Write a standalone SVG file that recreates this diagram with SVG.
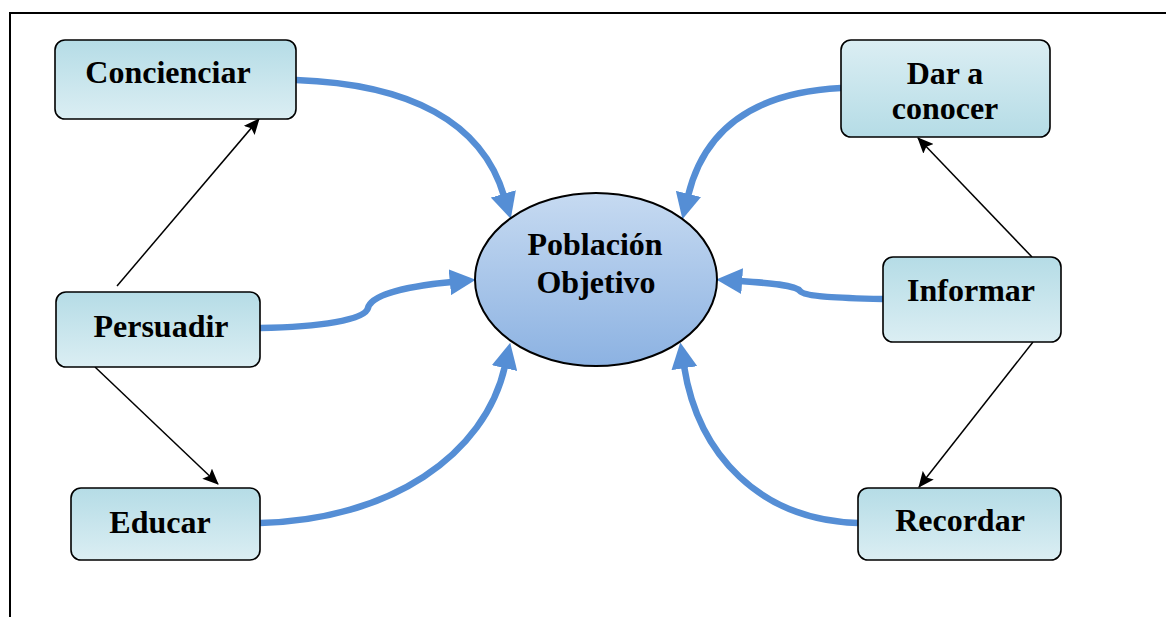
<svg xmlns="http://www.w3.org/2000/svg" width="1166" height="617" viewBox="0 0 1166 617">
<defs>
<linearGradient id="gDown" x1="0" y1="0" x2="0" y2="1"><stop offset="0" stop-color="#b5dce6"/><stop offset="1" stop-color="#dbeef3"/></linearGradient>
<linearGradient id="gUp" x1="0" y1="0" x2="0" y2="1"><stop offset="0" stop-color="#dbeef3"/><stop offset="1" stop-color="#b5dce6"/></linearGradient>
<linearGradient id="gEll" x1="0" y1="0" x2="0" y2="1"><stop offset="0" stop-color="#c6daf1"/><stop offset="1" stop-color="#8cb2e2"/></linearGradient>
<marker id="blueHead" markerUnits="userSpaceOnUse" markerWidth="26" markerHeight="26" viewBox="0 0 24 24" refX="2" refY="12" orient="auto"><path d="M0,0 L24,12 L0,24 z" fill="#558ed5"/></marker>
<marker id="blackHead" markerUnits="userSpaceOnUse" markerWidth="16" markerHeight="14" viewBox="0 0 16 14" refX="15" refY="7" orient="auto"><path d="M0,0 L16,7 L0,14 L3,7 z" fill="#000"/></marker>
<style>
.box{stroke:#000;stroke-width:1.6}
.lbl{font-family:"Liberation Serif","Times New Roman",serif;font-weight:bold;font-size:32px;fill:#000;text-anchor:middle}
.blue{fill:none;stroke:#558ed5;stroke-width:6.5;marker-end:url(#blueHead)}
.thin{fill:none;stroke:#000;stroke-width:1.5;marker-end:url(#blackHead)}
</style>
</defs>
<rect x="10" y="13" width="1170" height="620" fill="#fff" stroke="#000" stroke-width="2"/>
<g id="connectors">
<path class="blue" d="M296,80 C410,84 482,122 504,196"/>
<path class="blue" d="M841,88 C760,92 705,125 688,196"/>
<path class="blue" d="M260,328 C320,327 365,320 368,308 C372,292 420,285 452,282"/>
<path class="blue" d="M883,299 C840,298 805,297 800,291 C795,285 770,283 740,281"/>
<path class="blue" d="M260,523 C390,520 485,455 505,366"/>
<path class="blue" d="M858,523 C760,520 698,455 684,366"/>
<path class="thin" d="M117,286 L259,119"/>
<path class="thin" d="M95,367 L218,484"/>
<path class="thin" d="M1032,257 L918,138"/>
<path class="thin" d="M1033,342 L919,487"/>
</g>
<g id="poblacion">
<ellipse cx="596" cy="279.5" rx="121" ry="86.5" fill="url(#gEll)" stroke="#000" stroke-width="2"/>
<text class="lbl" x="595" y="255">Población</text>
<text class="lbl" x="596" y="293">Objetivo</text>
</g>
<g id="concienciar">
<rect class="box" x="55" y="40" width="241" height="79" rx="10" fill="url(#gDown)"/>
<text class="lbl" x="168" y="83">Concienciar</text>
</g>
<g id="persuadir">
<rect class="box" x="56" y="292" width="204" height="75" rx="10" fill="url(#gDown)"/>
<text class="lbl" x="161" y="337">Persuadir</text>
</g>
<g id="educar">
<rect class="box" x="71" y="488" width="189" height="72" rx="10" fill="url(#gDown)"/>
<text class="lbl" x="160" y="533">Educar</text>
</g>
<g id="dar-a-conocer">
<rect class="box" x="841" y="40" width="209" height="97" rx="10" fill="url(#gUp)"/>
<text class="lbl" x="945" y="84">Dar a</text>
<text class="lbl" x="945" y="119">conocer</text>
</g>
<g id="informar">
<rect class="box" x="883" y="257" width="178" height="85" rx="10" fill="url(#gDown)"/>
<text class="lbl" x="971" y="301">Informar</text>
</g>
<g id="recordar">
<rect class="box" x="858" y="488" width="203" height="72" rx="10" fill="url(#gDown)"/>
<text class="lbl" x="960" y="531">Recordar</text>
</g>
</svg>
